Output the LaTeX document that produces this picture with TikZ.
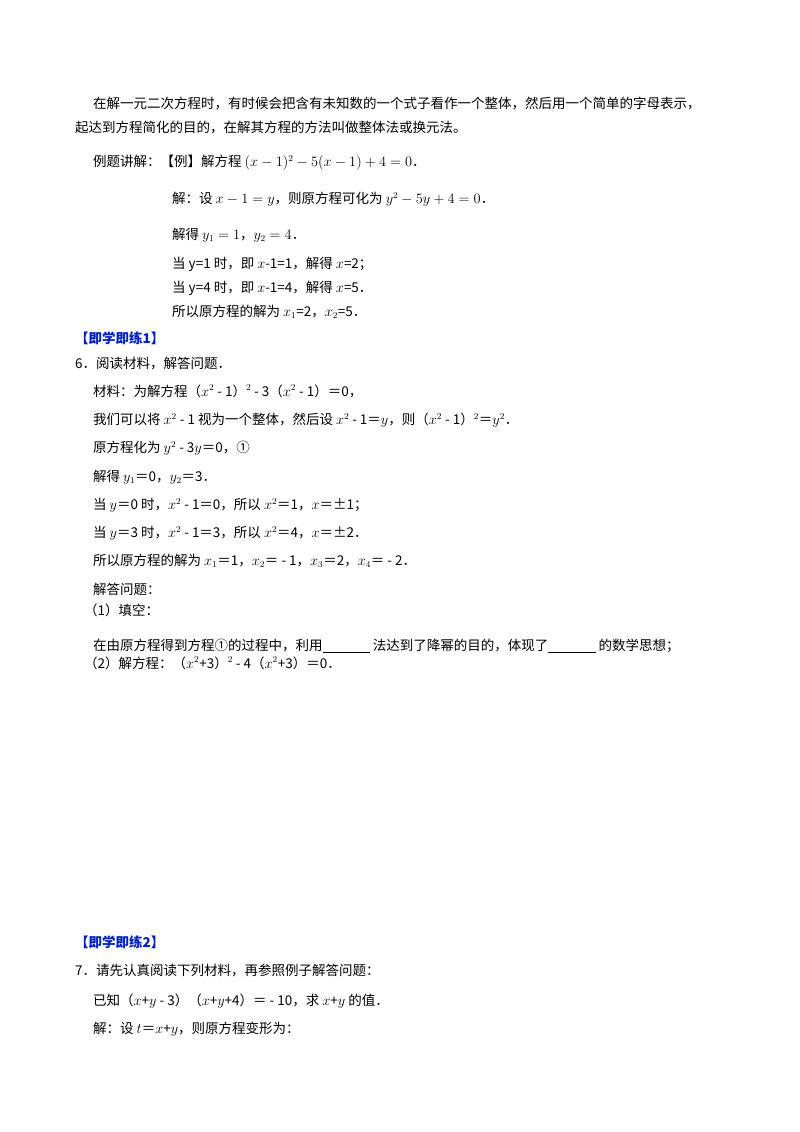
\documentclass[tikz,border=0pt]{standalone}
\usepackage{fontspec}
\setmainfont{Liberation Serif}
\newfontfamily\cjk{Noto Sans CJK SC}
\definecolor{headblue}{RGB}{0,32,192}
\tikzset{line/.style={anchor=west,inner sep=0pt,font=\cjk\fontsize{13.5pt}{15pt}\selectfont},
  head/.style={line,text=headblue,font=\cjk\bfseries\fontsize{13.5pt}{15pt}\selectfont}}
\begin{document}
\begin{tikzpicture}[x=1pt,y=-1pt]
\useasboundingbox (0,0) rectangle (800,1132);
% introduction and example
\node[line] (intro1) at (93,103) {在解一元二次方程时，有时候会把含有未知数的一个式子看作一个整体，然后用一个简单的字母表示，};
\node[line] (intro2) at (75,128) {起达到方程简化的目的，在解其方程的方法叫做整体法或换元法。};
\node[line] (ex) at (93,163) {例题讲解：【例】解方程 $(x-1)^2-5(x-1)+4=0$．};
\node[line] (ex1) at (172,199) {解：设 $x-1=y$，则原方程可化为 $y^2-5y+4=0$．};
\node[line] (ex2) at (172,235) {解得 $y_1=1$，$y_2=4$．};
\node[line] (ex3) at (172,264) {当 y=1 时，即 $x$-1=1，解得 $x$=2；};
\node[line] (ex4) at (172,288) {当 y=4 时，即 $x$-1=4，解得 $x$=5．};
\node[line] (ex5) at (172,312) {所以原方程的解为 $x_1$=2，$x_2$=5．};
% exercise 1
\node[head] (h1) at (75,338) {【即学即练1】};
\node[line] (q6) at (75,364) {6．阅读材料，解答问题．};
\node[line] (m1) at (93,391) {材料：为解方程（$x^2$ - 1）$^2$ - 3（$x^2$ - 1）＝0，};
\node[line] (m2) at (93,420) {我们可以将 $x^2$ - 1 视为一个整体，然后设 $x^2$ - 1＝$y$，则（$x^2$ - 1）$^2$＝$y^2$．};
\node[line] (m3) at (93,448) {原方程化为 $y^2$ - 3$y$＝0，①};
\node[line] (m4) at (93,477) {解得 $y_1$＝0，$y_2$＝3．};
\node[line] (m5) at (93,505) {当 $y$＝0 时，$x^2$ - 1＝0，所以 $x^2$＝1，$x$＝±1；};
\node[line] (m6) at (93,533) {当 $y$＝3 时，$x^2$ - 1＝3，所以 $x^2$＝4，$x$＝±2．};
\node[line] (m7) at (93,561) {所以原方程的解为 $x_1$＝1，$x_2$＝ - 1，$x_3$＝2，$x_4$＝ - 2．};
\node[line] (m8) at (93,589) {解答问题：};
\node[line] (p1) at (84,610) {（1）填空：};
\node[line] (p1a) at (93,646) {在由原方程得到方程①的过程中，利用\underline{\hspace{3.5em}} 法达到了降幂的目的，体现了\underline{\hspace{3.5em}} 的数学思想；};
\node[line] (p2) at (84,663) {（2）解方程：（$x^2$+3）$^2$ - 4（$x^2$+3）＝0．};
% exercise 2
\node[head] (h2) at (75,942) {【即学即练2】};
\node[line] (q7) at (75,971) {7．请先认真阅读下列材料，再参照例子解答问题：};
\node[line] (n1) at (93,1001) {已知（$x$+$y$ - 3）（$x$+$y$+4）＝ - 10，求 $x$+$y$ 的值．};
\node[line] (n2) at (93,1029) {解：设 $t$＝$x$+$y$，则原方程变形为：};
\end{tikzpicture}
\end{document}
